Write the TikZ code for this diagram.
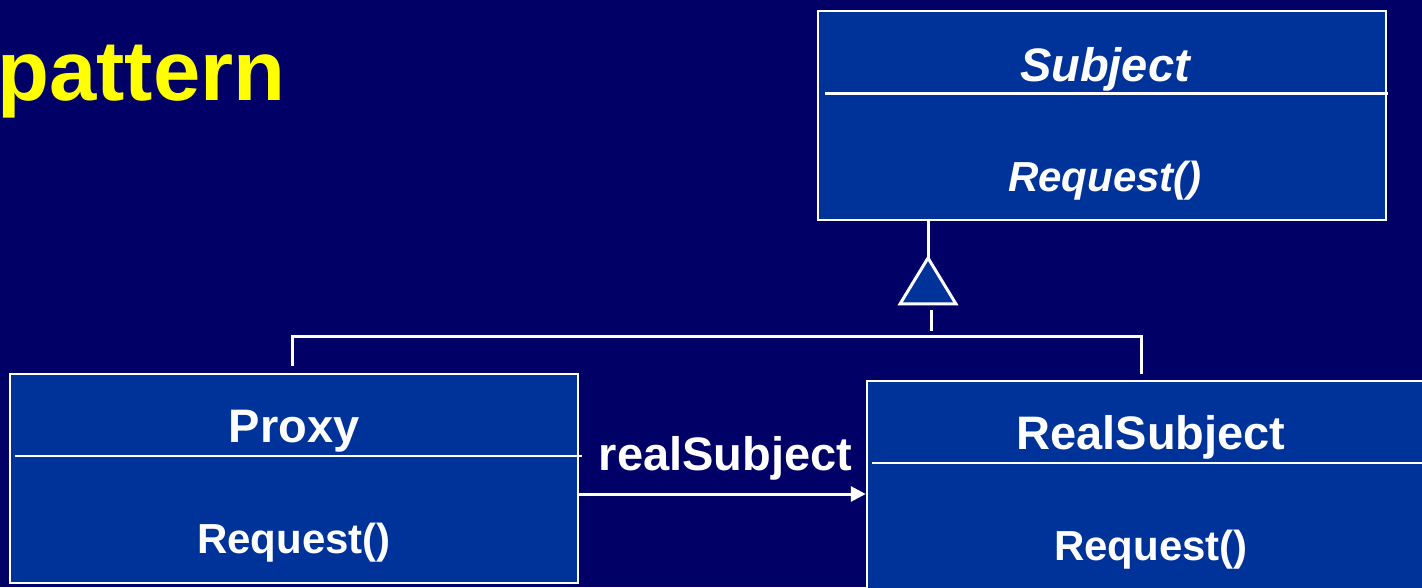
\documentclass[tikz,border=0pt]{standalone}
\usepackage{fontspec}
\setmainfont{Liberation Sans}
\usetikzlibrary{arrows.meta, positioning}
\definecolor{slidenavy}{HTML}{000066}
\definecolor{classblue}{HTML}{003399}
\definecolor{titleyellow}{HTML}{FFFF00}
\tikzset{
  classbox/.style={rectangle, draw=white, fill=classblue, line width=2.5pt,
                   minimum width=568pt, minimum height=209pt, inner sep=0},
  classname/.style={font=\fontsize{47}{50}\selectfont\bfseries, text=white,
                    anchor=base, inner sep=0},
  methodname/.style={font=\fontsize{42}{46}\selectfont\bfseries, text=white,
                     anchor=base, inner sep=0},
  divider/.style={draw=white, line width=2.5pt},
  umlline/.style={draw=white, line width=3pt},
  assoc/.style={->, draw=white, line width=3pt, >={Triangle[length=15pt,width=15pt]}},
  assoclabel/.style={font=\fontsize{47}{50}\selectfont\bfseries, text=white, inner sep=0},
  titletext/.style={font=\fontsize{85}{90}\selectfont\bfseries, text=titleyellow, inner sep=0},
}

\begin{document}
\begin{tikzpicture}[x=1pt, y=1pt]
  % slide background
  \useasboundingbox (0,0) rectangle (1422,587);
  \clip (0,0) rectangle (1422,587);
  \fill[slidenavy] (0,0) rectangle (1422,587);

  \node[titletext, anchor=base west] (title) at (-3,486) {pattern};

  % the three classes
  \node[classbox] (subject) at (1102,471.5) {};
  \node[classbox] (proxy)   at (294,108.5)  {};
  \node[classbox] (realsub) at (1151,101.5) {};

  \draw[divider] ([xshift=8pt, yshift=-84pt]subject.north west) -- ++(563,0);
  \draw[divider] ([xshift=6pt, yshift=-83pt]proxy.north west) -- ++(567,0);
  \draw[divider] ([xshift=6pt, yshift=-83pt]realsub.north west) -- ++(570,0);

  \node[classname]  (subjname) at ([xshift=3pt, yshift=-72pt]subject.north) {\itshape Subject};
  \node[methodname] (subjreq)  at ([xshift=3pt, yshift=-182pt]subject.north) {\itshape Request()};
  \node[classname]  (proxname) at ([yshift=-70pt]proxy.north) {Proxy};
  \node[methodname] (proxreq)  at ([yshift=-181pt]proxy.north) {Request()};
  \node[classname]  (realname) at ([yshift=-70pt]realsub.north) {RealSubject};
  \node[methodname] (realreq)  at ([yshift=-181pt]realsub.north) {Request()};

  % generalisation: triangle under Subject, bar joining both subclasses
  \coordinate (tip)  at (928,329);
  \coordinate (join) at (931,250);
  \draw[umlline] (tip) -- (tip |- subject.south);
  \draw[umlline, fill=classblue, line join=miter] (tip) -- ++(-28,-46) -- ++(56,0) -- cycle;
  \draw[umlline] ([yshift=6pt]join) -- ++(0,21);
  \draw[umlline] ([xshift=-2pt, yshift=7pt]proxy.north) |- (join)
                 -| ([xshift=-10pt, yshift=6pt]realsub.north);

  % association Proxy -> RealSubject
  \draw[assoc] ([yshift=-15.5pt]proxy.east) -- ([yshift=-15.5pt]proxy.east -| realsub.west)
        node[assoclabel, midway, anchor=base, xshift=3pt, yshift=24pt] (assocname) {realSubject};
\end{tikzpicture}
\end{document}
